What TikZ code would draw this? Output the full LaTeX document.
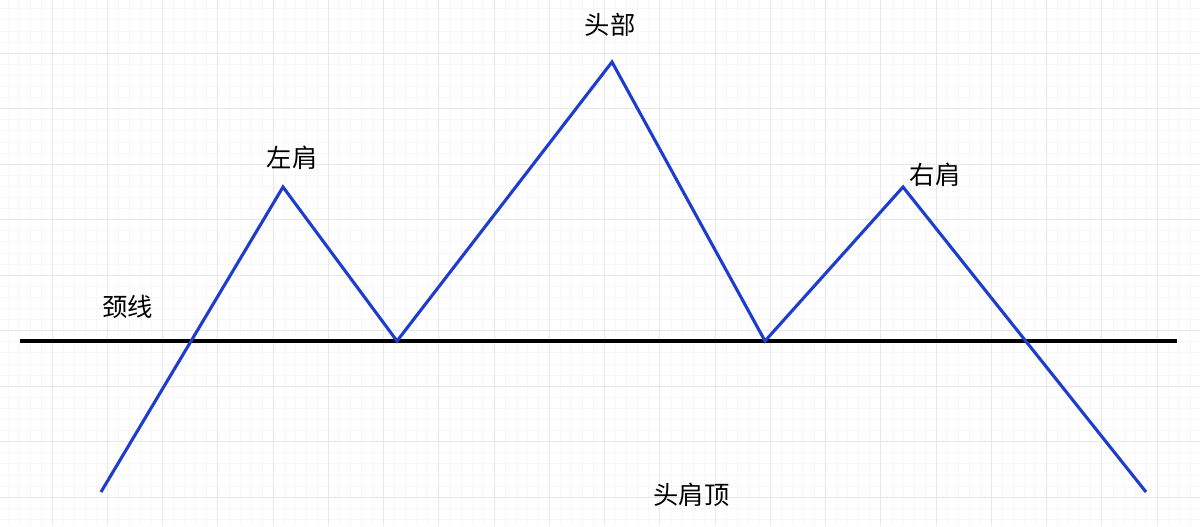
\documentclass[tikz,border=0pt]{standalone}
\usepackage{fontspec}
\newfontfamily\cjk{Noto Sans CJK SC}

\tikzstyle{trend}=[draw={rgb,255:red,30;green,60;blue,205}, line width=2.2pt, line join=miter]
\tikzstyle{neck}=[draw=black, line width=2.2pt]
\tikzstyle{lbl}=[font=\cjk\fontsize{18}{21}\selectfont, inner sep=0pt]

\begin{document}
\begin{tikzpicture}[x=0.025cm,y=-0.025cm]

\useasboundingbox (0,0) rectangle (1200,526);
\fill[white] (0,0) rectangle (1200,526);

% grid
\foreach \i in {0,...,110}{
  \draw[gray!6, line width=0.4pt] (\i * 11.05 - 3.25,0) -- (\i * 11.05 - 3.25,526);
}
\foreach \i in {0,...,48}{
  \draw[gray!6, line width=0.4pt] (0,\i * 11.1 - 2.5) -- (1200,\i * 11.1 - 2.5);
}
\foreach \i in {0,...,22}{
  \draw[gray!18, line width=0.6pt] (\i * 55.25 - 3.25,0) -- (\i * 55.25 - 3.25,526);
}
\foreach \i in {0,...,9}{
  \draw[gray!18, line width=0.6pt] (0,\i * 55.5 - 2.5) -- (1200,\i * 55.5 - 2.5);
}

\coordinate (start) at (101,492);
\coordinate (lshoulder) at (283,187);
\coordinate (ltrough) at (397,341);
\coordinate (head) at (612,62);
\coordinate (rtrough) at (765,341);
\coordinate (rshoulder) at (903,187);
\coordinate (finish) at (1146,492);
\coordinate (neckL) at (20,341);
\coordinate (neckR) at (1177,341);

\draw[neck] (neckL) -- (neckR);
\draw[trend] (start) -- (lshoulder) -- (ltrough) -- (head) -- (rtrough) -- (rshoulder) -- (finish);

\node[lbl] (necklabel) at (127.5,306.5) {颈线};
\node[lbl] (lshoulderlabel) at (292,158) {左肩};
\node[lbl] (headlabel) at (610,25) {头部};
\node[lbl] (rshoulderlabel) at (935,175) {右肩};
\node[lbl] (title) at (691.5,495) {头肩顶};

\end{tikzpicture}
\end{document}
